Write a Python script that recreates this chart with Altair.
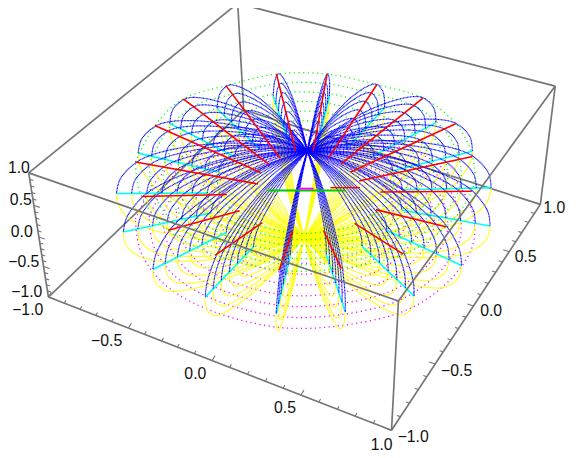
import altair as alt
import pandas as pd

# Values, in image pixels
HUB_Y_REF = (310, 192)                     # middle of the figure on the equator
RIM_X = [118,140,172,220,277,334,390,442,479,498,497,468,420,350,280,208,155,125]
RIM_Y = [193,152,122,107,94,94,106,121,150,187,226,266,297,313,315,298,270,232]
RED_IN = [.28,.3,.3,.32,.35,.35,.32,.3,.3,.32,.45,.5,.5,.5,.5,.48,.48,.48]
NEST = [1,.92,.84,.76,.68,.6,.52]
UP_R = [0,.12,.3,.5,.7,.85,.93,.985,1]
UP_Z = [42,46,50,50,45,37,27,14,0]
UP_HOLD = [1,.8,.55,.32,.14,.03,0,0,0]
LOW_R = [0,.12,.3,.5,.7,.85,.93,.985,1]
LOW_Z = [-45,-48,-50,-48,-42,-34,-25,-13,0]
LEAN = .04
RING_R, RING_UP, RING_LOW = .9, 32, -26
CYAN_IN = .52

# short bright pieces across the middle: x0, x1, y
MID_GREEN = [(272, 350, 190)]
MID_MAGENTA = [(303, 318, 188)]
MID_RED = [(335, 365, 187)]

CORNERS = {"TL":(29,172),"TB":(241,0),"TR":(563,84),"TF":(404,302),
           "BL":(49,298),"BB":(247,108),"BR":(548,204),"BF":(397,433)}
BACK_EDGES = [("TB","BB"),("BL","BB"),("BB","BR"),("TL","TB"),("TB","TR"),("BR","TR")]
FRONT_EDGES = [("TL","TF"),("TF","TR"),("TF","BF"),("TL","BL"),("BL","BF"),("BF","BR")]

TICK_T_X = [0,.046,.092,.138,.184,.233,.28,.33,.376,.425,.477,.528,.58,.632,.684,.736,.788,.842,.894,.947,1]
TICK_T_Y = [0,.06,.12,.18,.237,.293,.347,.4,.45,.5,.55,.6,.65,.7,.745,.79,.835,.875,.92,.96,1]
TICK_T_Z = [0,.05,.1,.148,.197,.246,.293,.34,.388,.436,.484,.534,.584,.636,.687,.738,.79,.842,.895,.948,1]

LABEL_TEXT = ["1.0","0.5","0.0","\u22120.5","\u22121.0",
              "\u22121.0","\u22120.5","0.0","0.5","1.0",
              "\u22121.0","\u22120.5","0.0","0.5","1.0"]
LABEL_X = [19,21,22,24,27,28,108,198,289,387,419,463,498,533,562]
LABEL_Y = [167,200,232,262,293,311,343,376,411,448,440,373,312,257,208]


def arcs(rs, zs):
    rows = []
    for i, (ex, ey) in enumerate(zip(RIM_X, RIM_Y)):
        for f in NEST:
            for k, (r, z, h) in enumerate(zip(rs, zs, UP_HOLD)):
                cx, cy = HUB_Y_REF
                zz = z*(h + (1-h)*f)
                rows.append(dict(px=cx + r*f*(ex-cx) + LEAN*zz, py=cy + r*f*(ey-cy) - zz,
                                 g=f"{i}-{f}", o=k))
    return pd.DataFrame(rows)


def rings(z):
    rows = []
    cx, cy = HUB_Y_REF
    for f in NEST:
        for k in range(len(RIM_X)+1):
            ex, ey = RIM_X[k % len(RIM_X)], RIM_Y[k % len(RIM_X)]
            rows.append(dict(px=cx + RING_R*f*(ex-cx), py=cy + RING_R*f*(ey-cy) - z*f, g=str(f), o=k))
    return pd.DataFrame(rows)


def cyan_rays():
    rows = []
    cx, cy = HUB_Y_REF
    for i, (ex, ey) in enumerate(zip(RIM_X, RIM_Y)):
        for k, s in enumerate((CYAN_IN, 1)):
            rows.append(dict(px=cx+s*(ex-cx), py=cy+s*(ey-cy), g=str(i), o=k))
    return pd.DataFrame(rows)


def red_rays():
    rows = []
    cx, cy = HUB_Y_REF
    for i, (ex, ey) in enumerate(zip(RIM_X, RIM_Y)):
        ax, ay = cx+RING_R*(ex-cx), cy+RING_R*(ey-cy)-RING_UP
        for k, s in enumerate((RED_IN[i], 1)):
            rows.append(dict(px=cx+s*(ax-cx), py=cy+s*(ay-cy), g=str(i), o=k))
    return pd.DataFrame(rows)


def flat(pieces):
    rows = []
    for n, (x0, x1, y) in enumerate(pieces):
        rows.append(dict(px=x0, py=y, g=str(n), o=0))
        rows.append(dict(px=x1, py=y, g=str(n), o=1))
    return pd.DataFrame(rows)


def edges(pairs):
    rows = []
    for n, (a, b) in enumerate(pairs):
        for k, c in enumerate((a, b)):
            rows.append(dict(px=CORNERS[c][0], py=CORNERS[c][1], g=str(n), o=k))
    return pd.DataFrame(rows)


def ticks(a, b, ts, d):
    rows = []
    (x0, y0), (x1, y1) = CORNERS[a], CORNERS[b]
    for n, t in enumerate(ts):
        m = 1.0 if n % 5 == 0 else .6
        bx, by = x0+t*(x1-x0), y0+t*(y1-y0)
        rows.append(dict(px=bx, py=by, g=f"{a}{b}{n}", o=0))
        rows.append(dict(px=bx+m*d[0], py=by+m*d[1], g=f"{a}{b}{n}", o=1))
    return pd.DataFrame(rows)


X = alt.X("px:Q", scale=alt.Scale(domain=[8, 576], nice=False, zero=False), axis=None)
Y = alt.Y("py:Q", scale=alt.Scale(domain=[458, 8], nice=False, zero=False), axis=None)


def line(df, color, width, dash=None, interp="linear"):
    kw = dict(color=color, strokeWidth=width, interpolate=interp, clip=False)
    if dash:
        kw["strokeDash"] = dash
    return alt.Chart(df).mark_line(**kw).encode(x=X, y=Y, detail="g:N", order="o:Q")


GRAY = "#767676"
tick_df = pd.concat([ticks("BL","BF",TICK_T_X,(3,-5)),
                     ticks("BF","BR",TICK_T_Y,(-6,-2)),
                     ticks("BL","TL",TICK_T_Z,(6,2))])
labels = pd.DataFrame({"px":LABEL_X,"py":LABEL_Y,"t":LABEL_TEXT})

chart = alt.layer(
    line(edges(BACK_EDGES), GRAY, 1.7),
    line(rings(RING_LOW), "#ff00ff", 1.3, [1.2,3.5], "cardinal"),
    line(arcs(LOW_R, LOW_Z), "#ffff00", 1.1, [2,.3], "cardinal"),
    line(cyan_rays(), "#00ffff", 1.6),
    line(rings(RING_UP), "#00ff00", 1.3, [1.2,3.5], "cardinal"),
    line(arcs(UP_R, UP_Z), "#0000ff", 1.15, [1,.45], "cardinal"),
    line(red_rays(), "#ff0000", 1.6),
    line(flat(MID_GREEN), "#00cc00", 2),
    line(flat(MID_MAGENTA), "#ff00ff", 2),
    line(flat(MID_RED), "#ff0000", 1.4),
    line(edges(FRONT_EDGES), GRAY, 1.7),
    line(tick_df, GRAY, 1.1),
    alt.Chart(labels).mark_text(font="Liberation Sans", fontSize=16, color="#111111", clip=False)
       .encode(x=X, y=Y, text="t:N"),
).properties(width=568, height=450, padding=0,
             autosize=alt.AutoSizeParams(type="none")
).configure_view(stroke=None)

chart.save("out.html", embed_options={"renderer": "svg", "actions": False})
